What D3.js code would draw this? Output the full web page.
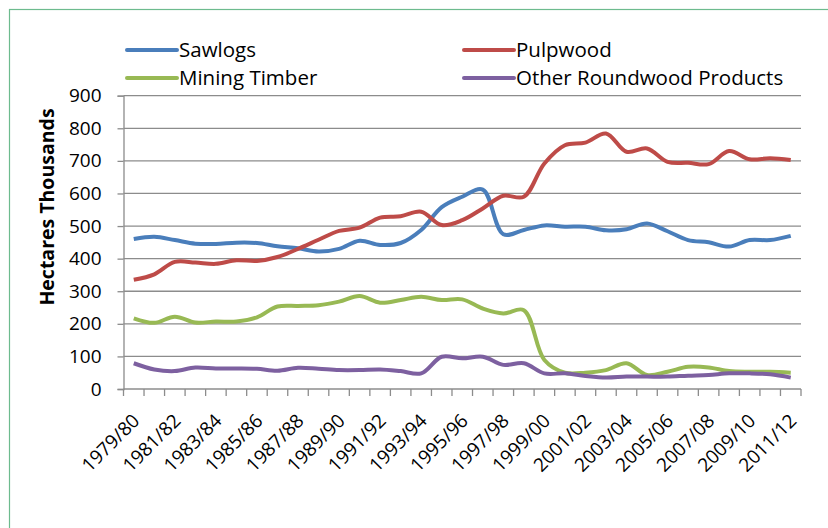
<!DOCTYPE html>
<html>
<head>
<meta charset="utf-8">
<script src="https://cdn.jsdelivr.net/npm/d3@7"></script>
<style>
  body { margin: 0; background: #fff; }
  text { font-family: "Open Sans", sans-serif; fill: #000; }
</style>
</head>
<body>
<script>
// years on the category axis
var years = [];
for (var y = 1979; y <= 2011; y++) {
  years.push(y + "/" + String((y + 1) % 100).padStart(2, "0"));
}

var sawlogs = [460, 467, 457, 446, 445, 449, 448, 438, 432, 422, 430, 455, 442, 448, 488,
  558, 590, 612, 475, 488, 502, 498, 498, 487, 490, 508, 484, 457, 450, 437, 457, 457, 470];
var pulpwood = [335, 352, 390, 388, 384, 395, 393, 405, 430, 458, 485, 495, 526, 530, 544,
  503, 518, 554, 593, 590, 692, 748, 756, 784, 728, 738, 697, 694, 690, 730, 705, 708, 703];
var miningTimber = [217, 203, 222, 204, 207, 207, 220, 253, 255, 257, 268, 285, 265, 273, 283,
  273, 275, 247, 232, 242, 89, 50, 50, 58, 79, 43, 53, 68, 66, 55, 53, 53, 50];
var otherRoundwood = [79, 60, 55, 66, 63, 63, 62, 56, 65, 62, 58, 58, 60, 55, 48,
  99, 94, 99, 74, 79, 48, 48, 40, 35, 38, 38, 38, 41, 43, 48, 48, 45, 35];

var seriesNames = ["Sawlogs", "Pulpwood", "Mining Timber", "Other Roundwood Products"];
var seriesColors = ["#4a7ebb", "#be4b48", "#98b954", "#7d60a0"];
var seriesData = [sawlogs, pulpwood, miningTimber, otherRoundwood];
var yTicks = [0, 100, 200, 300, 400, 500, 600, 700, 800, 900];

var W = 828, H = 528;
var svg = d3.select("body").append("svg").attr("width", W).attr("height", H);

// green frame
svg.append("rect")
  .attr("x", 9.5).attr("y", 9.5)
  .attr("width", W + 20).attr("height", H + 20)
  .attr("fill", "none").attr("stroke", "#6dbb8e").attr("stroke-width", 1.2);

var plotLeft = 123.5, plotRight = 801, plotTop = 95.7, plotBottom = 389;

var x = d3.scaleBand().domain(years).range([plotLeft, plotRight]).padding(0);
var yScale = d3.scaleLinear().domain([0, 900]).range([plotBottom, plotTop]);
var bw = x.bandwidth();

// gridlines
svg.append("g").selectAll("line").data(yTicks.filter(function(d){ return d > 0; })).enter()
  .append("line")
  .attr("x1", plotLeft).attr("x2", plotRight)
  .attr("y1", function(d){ return yScale(d); })
  .attr("y2", function(d){ return yScale(d); })
  .attr("stroke", "#8c8c8c").attr("stroke-width", 1.3);

// y axis
var yAxis = d3.axisLeft(yScale).tickValues(yTicks).tickSize(6).tickPadding(16);
var gy = svg.append("g").attr("transform", "translate(" + plotLeft + ",0)").call(yAxis);
gy.select(".domain").attr("stroke", "#8c8c8c").attr("stroke-width", 1.3);
gy.selectAll(".tick line").attr("stroke", "#8c8c8c").attr("stroke-width", 1.3);
gy.selectAll(".tick text").attr("font-family", "Open Sans").attr("font-size", 19).attr("fill", "#000");

// x axis line + ticks between categories
svg.append("line").attr("x1", plotLeft).attr("x2", plotRight).attr("y1", plotBottom).attr("y2", plotBottom)
  .attr("stroke", "#8c8c8c").attr("stroke-width", 1.3);
var bounds = years.map(function(d){ return x(d); }).concat([plotRight]);
svg.append("g").selectAll("line").data(bounds).enter().append("line")
  .attr("x1", function(d){ return d; }).attr("x2", function(d){ return d; })
  .attr("y1", plotBottom).attr("y2", plotBottom + 7)
  .attr("stroke", "#8c8c8c").attr("stroke-width", 1.3);

// x labels, every other year
svg.append("g").selectAll("text").data(years.filter(function(d, i){ return i % 2 == 0; })).enter()
  .append("text")
  .text(function(d){ return d; })
  .attr("font-size", 19)
  .attr("text-anchor", "end")
  .attr("transform", function(d){
    var cx = x(d) + bw / 2 + 7;
    return "translate(" + cx + "," + (plotBottom + 33) + ") rotate(-45)";
  });

// y title
svg.append("text")
  .text("Hectares Thousands")
  .attr("font-size", 19.5).attr("font-weight", "bold")
  .attr("text-anchor", "middle")
  .attr("transform", "translate(54,207) rotate(-90)");

// lines
var line = d3.line()
  .x(function(d, i){ return x(years[i]) + bw / 2; })
  .y(function(d){ return yScale(d); })
  .curve(d3.curveCatmullRom.alpha(0.5));

svg.append("g").selectAll("path").data(seriesData).enter().append("path")
  .attr("d", function(d){ return line(d); })
  .attr("fill", "none")
  .attr("stroke", function(d, i){ return seriesColors[i]; })
  .attr("stroke-width", 4)
  .attr("stroke-linejoin", "round");

// legend
var legendPos = [[127, 50], [464, 50], [127, 78], [464, 78]];
var lg = svg.append("g").selectAll("g").data(seriesNames).enter().append("g")
  .attr("transform", function(d, i){ return "translate(" + legendPos[i][0] + "," + legendPos[i][1] + ")"; });
lg.append("line").attr("x1", 0).attr("x2", 50).attr("y1", 0).attr("y2", 0)
  .attr("stroke", function(d, i){ return seriesColors[i]; })
  .attr("stroke-width", 4).attr("stroke-linecap", "round");
lg.append("text").text(function(d){ return d; })
  .attr("x", 52).attr("y", 7).attr("font-size", 20.5);
</script>
</body>
</html>
